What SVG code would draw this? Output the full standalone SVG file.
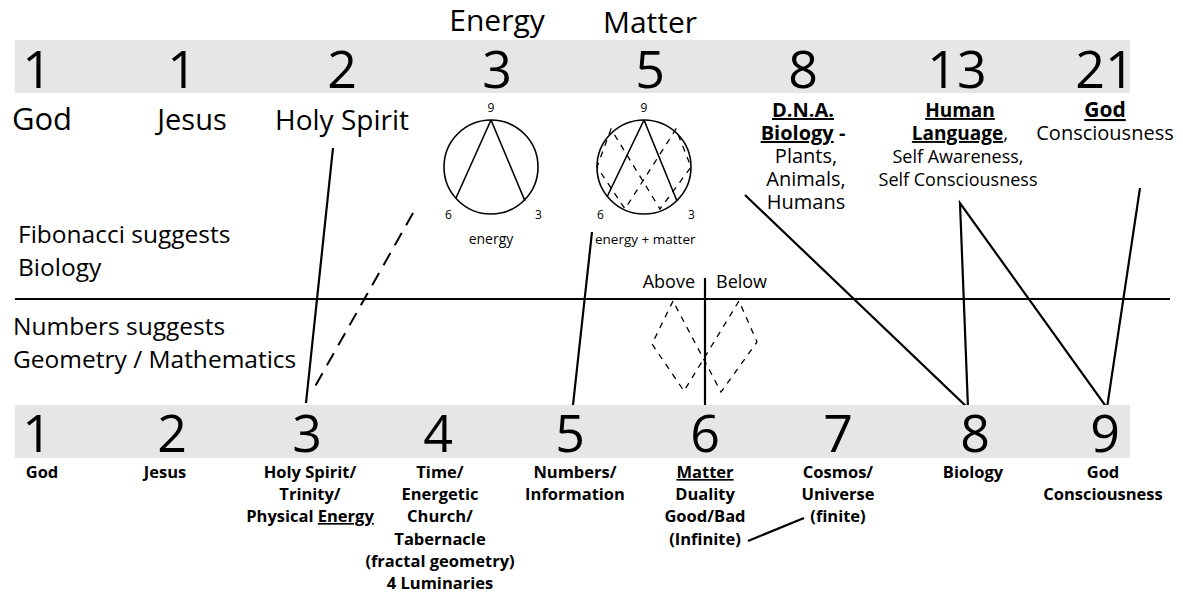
<svg xmlns="http://www.w3.org/2000/svg" width="1183" height="596" viewBox="0 0 1183 596">
<style>
.band{fill:#e6e6e6}
.num{font-family:"Open Sans","Noto Sans",sans-serif;font-size:52px;fill:#000;text-anchor:middle}
.t{font-family:"Open Sans","Noto Sans",sans-serif;fill:#000}
.c{text-anchor:middle}
.b{font-weight:bold}
.u{text-decoration:underline}
.ln{stroke:#000;stroke-width:2.2;fill:none}
.thin{stroke:#000;stroke-width:1.6;fill:none}
.dash{stroke:#000;stroke-width:1.3;fill:none;stroke-dasharray:6 6}
.dash2{stroke:#000;stroke-width:2;fill:none;stroke-dasharray:14 9}
</style>
<rect width="1183" height="596" fill="#fff"/>
<g id="top-band">
<rect class="band" x="15" y="40" width="1115" height="53"/>
<text class="num" x="37" y="88">1</text>
<text class="num" x="182" y="88">1</text>
<text class="num" x="342" y="88">2</text>
<text class="num" x="497" y="88">3</text>
<text class="num" x="650" y="88">5</text>
<text class="num" x="803" y="88">8</text>
<text class="num" x="957" y="88">13</text>
<text class="num" x="1105" y="88">21</text>
</g>
<g id="headers">
<text class="t c" x="497" y="31" font-size="30">Energy</text>
<text class="t c" x="650" y="33" font-size="30">Matter</text>
</g>
<g id="top-labels">
<text class="t c" x="42" y="130" font-size="31">God</text>
<text class="t c" x="192" y="130" font-size="29">Jesus</text>
<text class="t c" x="342" y="130" font-size="28">Holy Spirit</text>
<text class="t c" x="803" y="117" font-size="20"><tspan class="b u">D.N.A.</tspan></text>
<text class="t c" x="803" y="140" font-size="20"><tspan class="b u">Biology</tspan><tspan class="b"> -</tspan></text>
<text class="t c" x="806" y="163" font-size="20">Plants,</text>
<text class="t c" x="806" y="186" font-size="20">Animals,</text>
<text class="t c" x="806" y="209" font-size="20">Humans</text>
<text class="t c" x="960" y="117" font-size="19"><tspan class="b u">Human</tspan></text>
<text class="t c" x="960" y="140" font-size="19"><tspan class="b u">Language</tspan>,</text>
<text class="t c" x="958" y="163" font-size="18">Self Awareness,</text>
<text class="t c" x="958" y="186" font-size="18">Self Consciousness</text>
<text class="t c" x="1105" y="117" font-size="21"><tspan class="b u">God</tspan></text>
<text class="t c" x="1105" y="140" font-size="20">Consciousness</text>
</g>
<g id="circle-energy">
<circle class="thin" cx="491" cy="167" r="47"/>
<path class="thin" d="M491,120 L456,198 M491,120 L525,201"/>
<text class="t c" x="491" y="112" font-size="12">9</text>
<text class="t" x="445" y="219" font-size="12">6</text>
<text class="t" x="535" y="219" font-size="12">3</text>
<text class="t c" x="491" y="244" font-size="14">energy</text>
</g>
<g id="circle-matter">
<circle class="thin" cx="644" cy="167" r="47"/>
<path class="thin" d="M644,120 L607,197 M644,120 L677,201"/>
<path class="dash" d="M611,129 L597,167 L625,209 L676,129 L691,167 L660,209 Z"/>
<text class="t c" x="644" y="112" font-size="12">9</text>
<text class="t" x="597" y="219" font-size="12">6</text>
<text class="t" x="688" y="219" font-size="12">3</text>
<text class="t" x="595" y="244" font-size="13.5">energy + matter</text>
</g>
<g id="side-labels">
<text class="t" x="18" y="243" font-size="24.5">Fibonacci suggests</text>
<text class="t" x="18" y="276" font-size="24.5">Biology</text>
<text class="t" x="13" y="335" font-size="24.5">Numbers suggests</text>
<text class="t" x="13" y="368" font-size="24.5">Geometry / Mathematics</text>
</g>
<g id="above-below">
<text class="t" x="695" y="288" font-size="18" text-anchor="end">Above</text>
<text class="t" x="716" y="288" font-size="18">Below</text>
<path class="dash" d="M673,301 L652,344 L684,391 L739,301 L757,342 L721,392 Z"/>
</g>
<g id="connectors">
<line class="ln" x1="15" y1="299" x2="1170" y2="299"/>
<line class="ln" x1="333" y1="148" x2="306" y2="403"/>
<line class="dash2" x1="413" y1="213" x2="313" y2="390"/>
<line class="ln" x1="592" y1="232" x2="573" y2="405"/>
<line class="ln" x1="705" y1="278" x2="705" y2="410"/>
<polyline class="ln" points="745,195 968,408 960,203 1107,408 1140,188"/>
<line class="ln" x1="748" y1="541" x2="804" y2="518" stroke-width="1.8"/>
</g>
<g id="bottom-band">
<rect class="band" x="15" y="405" width="1115" height="53"/>
<text class="num" x="37" y="452">1</text>
<text class="num" x="172" y="452">2</text>
<text class="num" x="307" y="452">3</text>
<text class="num" x="438" y="452">4</text>
<text class="num" x="570" y="452">5</text>
<text class="num" x="705" y="452">6</text>
<text class="num" x="838" y="452">7</text>
<text class="num" x="975" y="452">8</text>
<text class="num" x="1105" y="452">9</text>
</g>
<g id="bottom-labels" class="t b" font-size="16.5" text-anchor="middle">
<text x="42" y="478">God</text>
<text x="165" y="478">Jesus</text>
<text x="310" y="478">Holy Spirit/</text>
<text x="310" y="500">Trinity/</text>
<text x="310" y="522">Physical <tspan class="u">Energy</tspan></text>
<text x="440" y="478">Time/</text>
<text x="440" y="500">Energetic</text>
<text x="440" y="522">Church/</text>
<text x="440" y="545">Tabernacle</text>
<text x="440" y="567">(fractal geometry)</text>
<text x="440" y="589">4 Luminaries</text>
<text x="575" y="478">Numbers/</text>
<text x="575" y="500">Information</text>
<text x="705" y="478"><tspan class="u">Matter</tspan></text>
<text x="705" y="500">Duality</text>
<text x="705" y="522">Good/Bad</text>
<text x="705" y="545">(Infinite)</text>
<text x="838" y="478">Cosmos/</text>
<text x="838" y="500">Universe</text>
<text x="838" y="522">(finite)</text>
<text x="973" y="478">Biology</text>
<text x="1103" y="478">God</text>
<text x="1103" y="500">Consciousness</text>
</g>
</svg>
